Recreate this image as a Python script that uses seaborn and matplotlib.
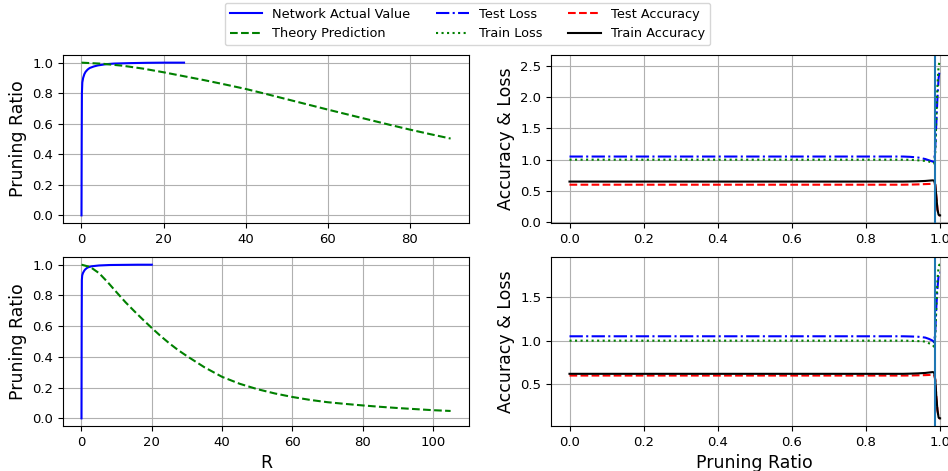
import matplotlib.pyplot as plt
import seaborn as sns
import numpy as np

# --- left column: pruning ratio vs R ---
r_actual_top = [0, 0.05, 0.1, 0.2, 0.4, 0.7, 1, 1.5, 2, 3, 4, 6, 8, 12, 16, 20, 25]
pr_actual_top = [0, 0.5, 0.8, 0.87, 0.9, 0.925, 0.94, 0.955, 0.965, 0.975, 0.982,
                 0.99, 0.994, 0.997, 0.999, 1.0, 1.0]
r_theory_top = [0, 5, 10, 15, 20, 25, 30, 35, 40, 45, 50, 55, 60, 65, 70, 75, 80, 85, 90]
pr_theory_top = [1.0, 0.993, 0.98, 0.961, 0.937, 0.911, 0.885, 0.857, 0.828, 0.795,
                 0.761, 0.727, 0.693, 0.66, 0.627, 0.594, 0.562, 0.532, 0.503]

r_actual_bot = [0, 0.05, 0.1, 0.2, 0.4, 0.7, 1, 1.5, 2, 3, 5, 8, 12, 16, 20]
pr_actual_bot = [0, 0.6, 0.9, 0.93, 0.945, 0.958, 0.968, 0.978, 0.984, 0.99, 0.995,
                 0.998, 0.999, 1.0, 1.0]
r_theory_bot = [0, 2.5, 5, 7.5, 10, 12.5, 15, 17.5, 20, 22.5, 25, 27.5, 30, 35, 40, 45,
                50, 55, 60, 65, 70, 75, 80, 85, 90, 95, 100, 105]
pr_theory_bot = [1.0, 0.985, 0.945, 0.885, 0.82, 0.756, 0.698, 0.642, 0.588, 0.536,
                 0.488, 0.444, 0.405, 0.332, 0.27, 0.225, 0.19, 0.162, 0.139, 0.12,
                 0.105, 0.094, 0.084, 0.075, 0.067, 0.06, 0.053, 0.048]

# --- right column: accuracy & loss vs pruning ratio ---
ratio = [0, 0.1, 0.2, 0.3, 0.4, 0.5, 0.6, 0.7, 0.8, 0.9, 0.92, 0.94, 0.96, 0.97,
         0.98, 0.984, 0.987, 0.99, 0.993, 0.996, 0.998, 1.0]
cut_top = 0.985
test_loss_top = [1.05] * 10 + [1.045, 1.035, 1.01, 0.99, 0.97, 0.96, 1.2, 1.6, 2.0, 2.3, 2.4, 2.4]
train_loss_top = [1.0] * 10 + [0.998, 0.99, 0.98, 0.97, 0.95, 0.94, 1.1, 1.7, 2.2, 2.5, 2.55, 2.55]
test_acc_top = [0.6] * 10 + [0.602, 0.605, 0.61, 0.612, 0.615, 0.62, 0.6, 0.4, 0.2, 0.12, 0.11, 0.11]
train_acc_top = [0.65] * 10 + [0.652, 0.655, 0.66, 0.665, 0.67, 0.665, 0.6, 0.4, 0.2, 0.12, 0.11, 0.11]

cut_bot = 0.985
test_loss_bot = [1.05] * 10 + [1.048, 1.045, 1.035, 1.02, 1.0, 0.98, 1.1, 1.4, 1.6, 1.75, 1.78, 1.78]
train_loss_bot = [1.0] * 10 + [0.998, 0.995, 0.99, 0.97, 0.95, 0.93, 1.05, 1.4, 1.7, 1.85, 1.87, 1.87]
test_acc_bot = [0.6] * 10 + [0.601, 0.603, 0.605, 0.607, 0.61, 0.612, 0.55, 0.35, 0.2, 0.12, 0.11, 0.11]
train_acc_bot = [0.62] * 10 + [0.622, 0.625, 0.63, 0.635, 0.64, 0.635, 0.55, 0.35, 0.2, 0.12, 0.11, 0.11]

fig = plt.figure(figsize=(9.48, 4.71), dpi=100)
ax_tl = fig.add_axes([0.0665, 0.5265, 0.4283, 0.3567])
ax_tr = fig.add_axes([0.5812, 0.5265, 0.43, 0.3567])
ax_bl = fig.add_axes([0.0665, 0.0955, 0.4283, 0.3588])
ax_br = fig.add_axes([0.5812, 0.0955, 0.43, 0.3588])

lw = 1.5


def left_panel(ax, rx, ry, tx, ty):
    sns.lineplot(x=rx, y=ry, ax=ax, color='b', lw=lw, label='Network Actual Value')
    sns.lineplot(x=tx, y=ty, ax=ax, color='g', lw=lw, linestyle='--', label='Theory Prediction')
    ax.set_ylabel('Pruning Ratio', fontsize=12.5)
    ax.grid(True)
    ax.get_legend().remove()


def right_panel(ax, tel, trl, tea, tra, cut):
    sns.lineplot(x=ratio, y=tel, ax=ax, color='b', lw=lw, linestyle='-.', label='Test Loss')
    sns.lineplot(x=ratio, y=trl, ax=ax, color='g', lw=lw, linestyle=':', label='Train Loss')
    sns.lineplot(x=ratio, y=tea, ax=ax, color='r', lw=lw, linestyle='--', label='Test Accuracy')
    sns.lineplot(x=ratio, y=tra, ax=ax, color='k', lw=lw, label='Train Accuracy')
    ax.axvline(cut, color='#1f77b4', lw=1.5)
    ax.set_ylabel('Accuracy & Loss', fontsize=12.5)
    ax.grid(True)
    ax.get_legend().remove()


left_panel(ax_tl, r_actual_top, pr_actual_top, r_theory_top, pr_theory_top)
left_panel(ax_bl, r_actual_bot, pr_actual_bot, r_theory_bot, pr_theory_bot)
right_panel(ax_tr, test_loss_top, train_loss_top, test_acc_top, train_acc_top, cut_top)
right_panel(ax_br, test_loss_bot, train_loss_bot, test_acc_bot, train_acc_bot, cut_bot)

ax_bl.set_xlabel('R', fontsize=12.5)
ax_br.set_xlabel('Pruning Ratio', fontsize=12.5)
ax_tr.set_yticks([0.0, 0.5, 1.0, 1.5, 2.0, 2.5])
ax_br.set_yticks([0.5, 1.0, 1.5])
for ax in (ax_tl, ax_tr, ax_bl, ax_br):
    ax.tick_params(labelsize=9.5)

h1, l1 = ax_tl.get_legend_handles_labels()
h2, l2 = ax_tr.get_legend_handles_labels()
fig.legend(h1 + h2, l1 + l2, loc='upper center', bbox_to_anchor=(0.493, 1.0),
           ncol=3, fontsize=9.3, handlelength=2.5, borderaxespad=0.2)

fig.savefig('out.png', dpi=100)
